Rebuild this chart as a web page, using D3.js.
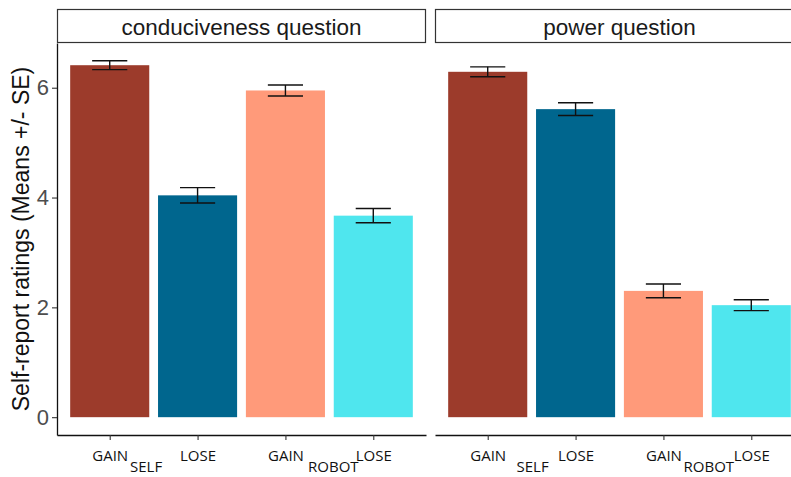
<!DOCTYPE html>
<html>
<head>
<meta charset="utf-8">
<script src="https://cdn.jsdelivr.net/npm/d3@7"></script>
<style>
  body { margin: 0; background: #fff; }
  svg { display: block; }
</style>
</head>
<body>
<svg id="chart" width="791" height="477"></svg>
<script>
// Facets, conditions and labels
const panels = ["conduciveness question", "power question"];
const conditions = ["SELF GAIN", "SELF LOSE", "ROBOT GAIN", "ROBOT LOSE"];
const tickLabels = ["GAIN", "LOSE", "GAIN", "LOSE"];
const groupLabels = ["SELF", "ROBOT"];
const yTicks = [0, 2, 4, 6];

// Mean ratings and standard errors per facet
const conduciveMeans = [6.41, 4.04, 5.95, 3.67];
const conduciveSE = [0.08, 0.14, 0.10, 0.13];
const powerMeans = [6.29, 5.61, 2.30, 2.04];
const powerSE = [0.09, 0.115, 0.125, 0.10];

const barColors = ["#9C3B2B", "#00668E", "#FF9A7A", "#4FE6EE"];

const facetData = [
  { title: panels[0], means: conduciveMeans, se: conduciveSE },
  { title: panels[1], means: powerMeans, se: powerSE }
];

// Layout
const W = 791, H = 477;
const panelTop = 43, panelBottom = 435;
const stripTop = 9.5;
const panelX = [[57, 426], [435, 804]];
const groupOffsets = [[-7.5, 4], [1, 1.5]]; // nudges for SELF / ROBOT captions

const svg = d3.select("#chart");

const allHi = d3.max(facetData.flatMap(f => f.means.map((m, i) => m + f.se[i])));
const y = d3.scaleLinear()
  .domain([-0.05 * allHi, allHi * 1.05])
  .range([panelBottom, panelTop]);

facetData.forEach((facet, p) => {
  const [x0, x1] = panelX[p];
  const x = d3.scalePoint().domain(conditions).range([x0, x1]).padding(0.6);
  const step = x.step();
  const barW = step * 0.9;
  const capW = step * 0.4;
  const g = svg.append("g");

  const rows = conditions.map((c, i) => ({ c, mean: facet.means[i], se: facet.se[i], color: barColors[i] }));

  // Strip header
  g.append("rect")
    .attr("x", x0 + 0.5).attr("y", stripTop)
    .attr("width", x1 - x0 - 1).attr("height", panelTop - stripTop - 0.5)
    .attr("fill", "#fff").attr("stroke", "#333").attr("stroke-width", 1.2);
  g.append("text")
    .attr("x", (x0 + x1) / 2).attr("y", 35)
    .attr("text-anchor", "middle")
    .attr("font-family", "Liberation Sans, Arial, sans-serif")
    .attr("font-size", 22.5).attr("fill", "#1a1a1a")
    .text(facet.title);

  // Bars
  g.selectAll("rect.bar").data(rows).join("rect")
    .attr("class", "bar")
    .attr("x", d => x(d.c) - barW / 2)
    .attr("width", barW)
    .attr("y", d => y(d.mean))
    .attr("height", d => y(0) - y(d.mean))
    .attr("fill", d => d.color);

  // Error bars
  const eb = g.selectAll("g.err").data(rows).join("g").attr("class", "err")
    .attr("stroke", "#111").attr("stroke-width", 1.4).attr("fill", "none");
  eb.append("line")
    .attr("x1", d => x(d.c)).attr("x2", d => x(d.c))
    .attr("y1", d => y(d.mean + d.se)).attr("y2", d => y(d.mean - d.se));
  eb.append("line")
    .attr("x1", d => x(d.c) - capW / 2).attr("x2", d => x(d.c) + capW / 2)
    .attr("y1", d => y(d.mean + d.se)).attr("y2", d => y(d.mean + d.se));
  eb.append("line")
    .attr("x1", d => x(d.c) - capW / 2).attr("x2", d => x(d.c) + capW / 2)
    .attr("y1", d => y(d.mean - d.se)).attr("y2", d => y(d.mean - d.se));

  // X axis
  const xAxis = d3.axisBottom(x)
    .tickSizeInner(5).tickSizeOuter(0)
    .tickFormat((d, i) => tickLabels[i]);
  const xg = g.append("g").attr("transform", `translate(0,${panelBottom})`).call(xAxis);
  xg.select(".domain").attr("stroke", "#111").attr("stroke-width", 1.3);
  xg.selectAll(".tick line").attr("stroke", "#333").attr("stroke-width", 1.1);
  xg.selectAll(".tick text")
    .attr("y", 26).attr("dy", null)
    .attr("font-family", "Open Sans, sans-serif")
    .attr("font-size", 15).attr("fill", "#111");

  // Group captions under each pair of bars
  groupLabels.forEach((lab, k) => {
    const cx = (x(conditions[2 * k]) + x(conditions[2 * k + 1])) / 2 + groupOffsets[p][k];
    g.append("text")
      .attr("x", cx).attr("y", 472)
      .attr("text-anchor", "middle")
      .attr("font-family", "Open Sans, sans-serif")
      .attr("font-size", 15).attr("fill", "#111")
      .text(lab);
  });

  // Y axis only on the first facet
  if (p === 0) {
    const yAxis = d3.axisLeft(y).tickValues(yTicks).tickSizeInner(5).tickSizeOuter(0).tickPadding(3);
    const yg = g.append("g").attr("transform", `translate(${x0},0)`).call(yAxis);
    yg.select(".domain").attr("stroke", "#111").attr("stroke-width", 1.3);
    yg.selectAll(".tick line").attr("stroke", "#333").attr("stroke-width", 1.1);
    yg.selectAll(".tick text")
      .attr("font-family", "Liberation Sans, Arial, sans-serif")
      .attr("font-size", 22).attr("fill", "#4d4d4d");
  }
});

// Y axis title
svg.append("text")
  .attr("transform", `translate(29,${(panelTop + panelBottom) / 2}) rotate(-90)`)
  .attr("text-anchor", "middle")
  .attr("font-family", "Liberation Sans, Arial, sans-serif")
  .attr("font-size", 23).attr("fill", "#111")
  .text("Self-report ratings (Means +/- SE)");
</script>
</body>
</html>
